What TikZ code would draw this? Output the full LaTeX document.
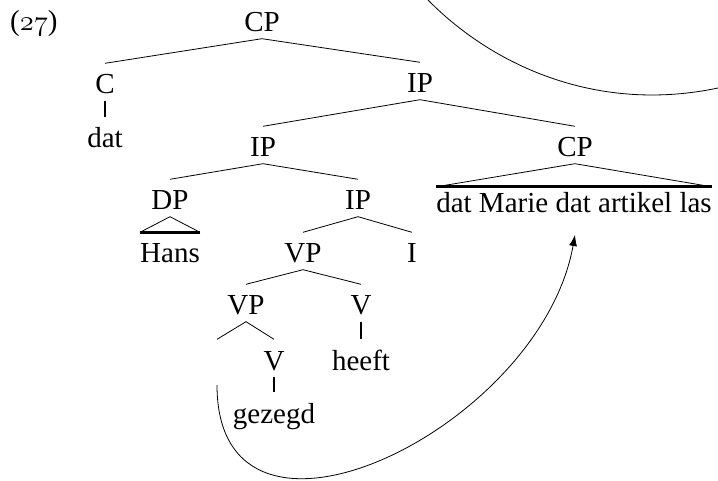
\documentclass[tikz,border=0pt]{standalone}
\usepackage{fontspec}
\setmainfont{Liberation Serif}
\usetikzlibrary{arrows.meta}
\begin{document}
\begin{tikzpicture}[x=1pt,y=-1pt,
  every node/.style={font=\fontsize{29}{33}\selectfont},
  lab/.style={anchor=base,inner xsep=0pt,inner ysep=6.5pt,text height=24pt,text depth=0pt},
  branch/.style={line width=0.8pt},
  unary/.style={line width=2.6pt},
  roofbase/.style={line width=2.6pt},
  movement/.style={line width=0.8pt,-{Latex[length=11pt,width=8pt]}},
  bigarc/.style={line width=0.8pt}]
\useasboundingbox (0,0) rectangle (718,481);

% example number with old-style figures
\node[anchor=base west,inner sep=0pt] (exnum) at (10,31) {({\usefont{OML}{cmm}{m}{it}\scalebox{1.15}{27}})};

% tree labels
\node[lab] (cp)    at (262,32)  {CP};
\node[lab] (c)     at (105,94)  {C};
\node[lab] (dat)   at (105,148) {dat};
\node[lab] (ip)    at (420,93)  {IP};
\node[lab] (ipa)   at (263,157) {IP};
\node[lab] (cpb)   at (575,157) {CP};
\node[lab,text height=19.5pt] (clause) at (574,213) {dat Marie dat artikel las};
\node[lab] (dp)    at (170,210) {DP};
\node[lab] (hans)  at (170,263) {Hans};
\node[lab] (ipb)   at (358,210) {IP};
\node[lab] (vp)    at (303,263) {VP};
\node[lab] (i)     at (412,263) {I};
\node[lab] (vpb)   at (246,315) {VP};
\node[lab] (v)     at (361,315) {V};
\node[lab] (heeft) at (361,370) {heeft};
\node[lab] (gap)   at (217,370) {};
\node[lab] (vb)    at (274,370) {V};
\node[lab] (gez)   at (274,423) {gezegd};

% branches
\draw[branch] (c.north) -- (cp.south) -- (ip.north);
\draw[branch] (ipa.north) -- (ip.south) -- (cpb.north);
\draw[branch] (dp.north) -- (ipa.south) -- (ipb.north);
\draw[branch] (vp.north) -- (ipb.south) -- (i.north);
\draw[branch] (vpb.north) -- (vp.south) -- (v.north);
\draw[branch] (gap.north) -- (vpb.south) -- (vb.north);

% unary branches
\draw[unary] (c.south) -- (dat.north);
\draw[unary] (v.south) -- (heeft.north);
\draw[unary] (vb.south) -- (gez.north);

% roofs
\draw[branch] (hans.north west) -- (dp.south) -- (hans.north east);
\draw[roofbase] (hans.north west) -- (hans.north east);
\draw[branch] (clause.north west) -- (cpb.south) -- (clause.north east);
\draw[roofbase] (clause.north west) -- (clause.north east);

% movement arrow
\coordinate (trace) at (217,385);
\coordinate (landing) at (575,235);
\draw[movement] (trace) .. controls (217,585) and (540,430) .. (landing);

% arc in the upper right corner
\begin{scope}
\clip (0,0) rectangle (718,481);
\coordinate (arcstart) at (428,0);
\coordinate (arcend) at (718,88);
\draw[bigarc] (arcstart) .. controls (495,68) and (600,113) .. (arcend);
\end{scope}
\end{tikzpicture}
\end{document}
